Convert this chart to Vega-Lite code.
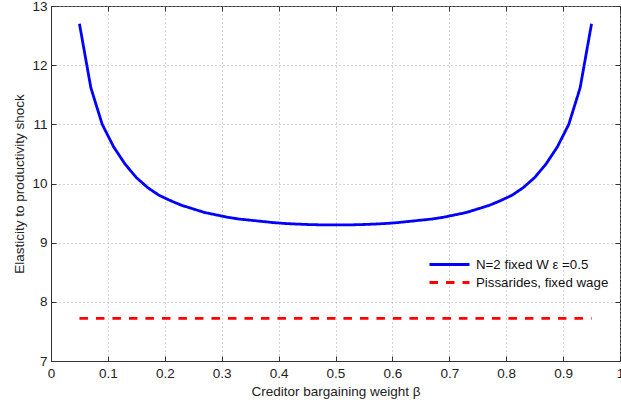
{
  "$schema": "https://vega.github.io/schema/vega-lite/v6.json",
  "width": 569,
  "height": 355,
  "autosize": {"type": "none"},
  "padding": {"left": 51, "top": 6, "right": 1, "bottom": 41},
  "background": "white",
  "config": {
    "font": "Liberation Sans",
    "view": {"stroke": "#333333", "strokeWidth": 1},
    "axis": {
      "labelFont": "Liberation Sans",
      "titleFont": "Liberation Sans",
      "labelColor": "#222222",
      "titleColor": "#222222",
      "labelFontSize": 13.5,
      "titleFontSize": 13.5,
      "titleFontWeight": "normal",
      "domainColor": "#333333",
      "tickColor": "#333333",
      "gridColor": "#aaaaaa",
      "gridDash": [1, 3],
      "gridWidth": 1
    }
  },
  "data": {
    "values": [
      {"b": 0.05, "v": 12.70, "s": "N=2 fixed W ε =0.5"},
      {"b": 0.07, "v": 11.62, "s": "N=2 fixed W ε =0.5"},
      {"b": 0.09, "v": 11.00, "s": "N=2 fixed W ε =0.5"},
      {"b": 0.11, "v": 10.62, "s": "N=2 fixed W ε =0.5"},
      {"b": 0.13, "v": 10.33, "s": "N=2 fixed W ε =0.5"},
      {"b": 0.15, "v": 10.10, "s": "N=2 fixed W ε =0.5"},
      {"b": 0.17, "v": 9.93, "s": "N=2 fixed W ε =0.5"},
      {"b": 0.19, "v": 9.80, "s": "N=2 fixed W ε =0.5"},
      {"b": 0.21, "v": 9.71, "s": "N=2 fixed W ε =0.5"},
      {"b": 0.23, "v": 9.63, "s": "N=2 fixed W ε =0.5"},
      {"b": 0.25, "v": 9.57, "s": "N=2 fixed W ε =0.5"},
      {"b": 0.27, "v": 9.51, "s": "N=2 fixed W ε =0.5"},
      {"b": 0.29, "v": 9.47, "s": "N=2 fixed W ε =0.5"},
      {"b": 0.31, "v": 9.43, "s": "N=2 fixed W ε =0.5"},
      {"b": 0.33, "v": 9.40, "s": "N=2 fixed W ε =0.5"},
      {"b": 0.35, "v": 9.38, "s": "N=2 fixed W ε =0.5"},
      {"b": 0.37, "v": 9.36, "s": "N=2 fixed W ε =0.5"},
      {"b": 0.39, "v": 9.34, "s": "N=2 fixed W ε =0.5"},
      {"b": 0.41, "v": 9.325, "s": "N=2 fixed W ε =0.5"},
      {"b": 0.43, "v": 9.315, "s": "N=2 fixed W ε =0.5"},
      {"b": 0.45, "v": 9.307, "s": "N=2 fixed W ε =0.5"},
      {"b": 0.47, "v": 9.302, "s": "N=2 fixed W ε =0.5"},
      {"b": 0.49, "v": 9.30, "s": "N=2 fixed W ε =0.5"},
      {"b": 0.51, "v": 9.30, "s": "N=2 fixed W ε =0.5"},
      {"b": 0.53, "v": 9.302, "s": "N=2 fixed W ε =0.5"},
      {"b": 0.55, "v": 9.307, "s": "N=2 fixed W ε =0.5"},
      {"b": 0.57, "v": 9.315, "s": "N=2 fixed W ε =0.5"},
      {"b": 0.59, "v": 9.325, "s": "N=2 fixed W ε =0.5"},
      {"b": 0.61, "v": 9.34, "s": "N=2 fixed W ε =0.5"},
      {"b": 0.63, "v": 9.36, "s": "N=2 fixed W ε =0.5"},
      {"b": 0.65, "v": 9.38, "s": "N=2 fixed W ε =0.5"},
      {"b": 0.67, "v": 9.40, "s": "N=2 fixed W ε =0.5"},
      {"b": 0.69, "v": 9.43, "s": "N=2 fixed W ε =0.5"},
      {"b": 0.71, "v": 9.47, "s": "N=2 fixed W ε =0.5"},
      {"b": 0.73, "v": 9.51, "s": "N=2 fixed W ε =0.5"},
      {"b": 0.75, "v": 9.57, "s": "N=2 fixed W ε =0.5"},
      {"b": 0.77, "v": 9.63, "s": "N=2 fixed W ε =0.5"},
      {"b": 0.79, "v": 9.71, "s": "N=2 fixed W ε =0.5"},
      {"b": 0.81, "v": 9.80, "s": "N=2 fixed W ε =0.5"},
      {"b": 0.83, "v": 9.93, "s": "N=2 fixed W ε =0.5"},
      {"b": 0.85, "v": 10.10, "s": "N=2 fixed W ε =0.5"},
      {"b": 0.87, "v": 10.33, "s": "N=2 fixed W ε =0.5"},
      {"b": 0.89, "v": 10.62, "s": "N=2 fixed W ε =0.5"},
      {"b": 0.91, "v": 11.00, "s": "N=2 fixed W ε =0.5"},
      {"b": 0.93, "v": 11.62, "s": "N=2 fixed W ε =0.5"},
      {"b": 0.95, "v": 12.70, "s": "N=2 fixed W ε =0.5"},
      {"b": 0.05, "v": 7.72, "s": "Pissarides, fixed wage"},
      {"b": 0.95, "v": 7.72, "s": "Pissarides, fixed wage"}
    ]
  },
  "layer": [
    {
      "mark": {"type": "line", "strokeWidth": 2.8},
      "encoding": {
        "x": {
          "field": "b", "type": "quantitative",
          "scale": {"domain": [0, 1], "nice": false, "zero": false},
          "axis": {
            "title": "Creditor bargaining weight β",
            "values": [0, 0.1, 0.2, 0.3, 0.4, 0.5, 0.6, 0.7, 0.8, 0.9, 1],
            "format": "~g",
            "tickSize": -5, "labelPadding": 10, "titlePadding": 5,
            "grid": true, "labelFlush": false
          }
        },
        "y": {
          "field": "v", "type": "quantitative",
          "scale": {"domain": [7, 13], "nice": false, "zero": false},
          "axis": {
            "title": "Elasticity to productivity shock",
            "values": [7, 8, 9, 10, 11, 12, 13],
            "tickSize": -5, "labelPadding": 9, "titlePadding": 5,
            "grid": true, "labelFlush": false
          }
        },
        "color": {
          "field": "s", "type": "nominal",
          "scale": {"domain": ["N=2 fixed W ε =0.5", "Pissarides, fixed wage"], "range": ["#0000ff", "#ff0000"]},
          "legend": {
            "title": null,
            "orient": "none",
            "legendX": 387,
            "legendY": 247,
            "symbolType": "M-2,0H2",
            "symbolSize": 400,
            "symbolStrokeWidth": 2.8,
            "labelFontSize": 13.3,
            "labelFont": "Liberation Sans",
            "labelColor": "#111111",
            "rowPadding": 0,
            "labelOffset": 15
          }
        },
        "strokeDash": {
          "field": "s", "type": "nominal",
          "scale": {"domain": ["N=2 fixed W ε =0.5", "Pissarides, fixed wage"], "range": [[1, 0], [8.5, 8]]},
          "legend": {
            "title": null,
            "orient": "none",
            "legendX": 387,
            "legendY": 247,
            "symbolType": "M-2,0H2",
            "symbolSize": 400,
            "symbolStrokeWidth": 2.8,
            "labelFontSize": 13.3,
            "labelFont": "Liberation Sans",
            "labelColor": "#111111",
            "rowPadding": 0,
            "labelOffset": 15
          }
        }
      }
    },
    {
      "mark": {"type": "line", "opacity": 0},
      "encoding": {
        "x": {
          "field": "b", "type": "quantitative",
          "scale": {"domain": [0, 1], "nice": false, "zero": false},
          "axis": {"orient": "top", "title": null, "labels": false, "grid": false, "domain": false,
                   "values": [0, 0.1, 0.2, 0.3, 0.4, 0.5, 0.6, 0.7, 0.8, 0.9, 1], "tickSize": -5}
        },
        "y": {
          "field": "v", "type": "quantitative",
          "scale": {"domain": [7, 13], "nice": false, "zero": false},
          "axis": {"orient": "right", "title": null, "labels": false, "grid": false, "domain": false,
                   "values": [7, 8, 9, 10, 11, 12, 13], "tickSize": -5}
        }
      }
    }
  ],
  "resolve": {"axis": {"x": "independent", "y": "independent"}}
}
